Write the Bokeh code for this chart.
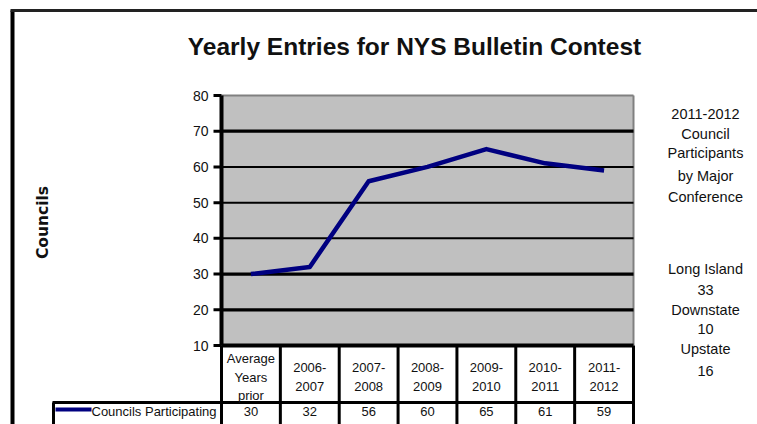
import math
from bokeh.plotting import figure
from bokeh.models import Range1d
from bokeh.core.properties import value
from bokeh.embed import file_html
from bokeh.resources import INLINE

# ---------------- data ----------------
title_text = "Yearly Entries for NYS Bulletin Contest"
y_axis_title = "Councils"
categories = ["Average\nYears\nprior", "2006-\n2007", "2007-\n2008", "2008-\n2009",
              "2009-\n2010", "2010-\n2011", "2011-\n2012"]
series_name = "Councils Participating"
values = [30, 32, 56, 60, 65, 61, 59]
y_ticks = [10, 20, 30, 40, 50, 60, 70, 80]
side_heading = ["2011-2012", "Council", "Participants", "by Major", "Conference"]
conference_names = ["Long Island", "Downstate", "Upstate"]
conference_counts = [33, 10, 16]

# ---------------- layout (page pixels) ----------------
W, H = 757, 424
MARGIN = 0
PLOT_L, PLOT_R = 221, 633
PLOT_T, PLOT_B = 95, 345
NCAT = len(categories)
SX = (PLOT_R - PLOT_L) / NCAT
SY = (PLOT_B - PLOT_T) / (y_ticks[-1] - y_ticks[0])


def dx(px):
    return (px - PLOT_L) / SX


def dy(py):
    return y_ticks[0] - (py - PLOT_B) / SY


p = figure(width=W, height=H, output_backend="svg", toolbar_location=None,
           x_range=Range1d(dx(MARGIN), dx(MARGIN + W)),
           y_range=Range1d(dy(MARGIN + H), dy(MARGIN)),
           x_axis_location=None, y_axis_location=None, min_border=0)
p.grid.visible = False
p.outline_line_color = None
p.background_fill_color = "white"
p.border_fill_color = "white"

FONT = value("Liberation Sans")

# outer frame of the chart object
p.segment(x0=[dx(12)], y0=[dy(10)], x1=[dx(12)], y1=[dy(440)], line_color="black", line_width=4)
p.segment(x0=[dx(10)], y0=[dy(10)], x1=[dx(770)], y1=[dy(10)], line_color="#222222", line_width=3)

# title
p.text(x=[dx(414)], y=[dy(46)], text=[title_text], text_font=FONT, text_font_style="bold",
       text_font_size="24.5px", text_align="center", text_baseline="middle", text_color="#111111")

# plot area
ymin, ymax = y_ticks[0], y_ticks[-1]
p.quad(left=[0], right=[NCAT], bottom=[ymin], top=[ymax], fill_color="#c0c0c0", line_color=None)
p.segment(x0=[0], y0=[ymax], x1=[NCAT], y1=[ymax], line_color="#808080", line_width=2)
p.segment(x0=[NCAT], y0=[ymin], x1=[NCAT], y1=[ymax], line_color="#808080", line_width=2)

# gridlines
grid_vals = y_ticks[1:-1]
thick = {20: 3.2, 30: 3.2, 70: 3.2}
p.segment(x0=[0] * len(grid_vals), y0=grid_vals, x1=[NCAT] * len(grid_vals), y1=grid_vals,
          line_color="black", line_width=[thick.get(v, 2) for v in grid_vals])

# y axis: line, ticks, labels
p.segment(x0=[0], y0=[ymin], x1=[0], y1=[ymax], line_color="black", line_width=4)
p.segment(x0=[dx(213)] * len(y_ticks), y0=y_ticks, x1=[0] * len(y_ticks), y1=y_ticks,
          line_color="black", line_width=3)
p.text(x=[dx(208)] * len(y_ticks), y=y_ticks, text=[str(v) for v in y_ticks], text_font=FONT,
       text_font_size="14px", text_align="right", text_baseline="middle", text_color="#111111")

# y axis title
p.text(x=[dx(42)], y=[dy(222)], text=[y_axis_title], angle=math.pi / 2, text_font=value("DejaVu Sans"),
       text_font_style="bold", text_font_size="15.5px", text_align="center", text_baseline="middle",
       text_color="#111111")

# data line
xs = [i + 0.5 for i in range(NCAT)]
p.line(x=xs, y=values, line_color="#000080", line_width=4.5, line_join="round")

# x axis line
p.segment(x0=[0], y0=[ymin], x1=[NCAT], y1=[ymin], line_color="black", line_width=4)

# data table: cell borders
bounds = list(range(NCAT + 1))
p.segment(x0=bounds, y0=[ymin] * len(bounds), x1=bounds, y1=[dy(440)] * len(bounds),
          line_color="black", line_width=3)
p.segment(x0=[dx(52)], y0=[dy(402)], x1=[NCAT], y1=[dy(402)], line_color="black", line_width=3)
p.segment(x0=[dx(53)], y0=[dy(402)], x1=[dx(53)], y1=[dy(440)], line_color="black", line_width=3)

# header texts (category labels)
LINE_GAP = 18.5
HEAD_MID = 376.5
hx, hy, ht = [], [], []
for i, cat in enumerate(categories):
    lines = cat.split("\n")
    n = len(lines)
    for j, ln in enumerate(lines):
        hx.append(i + 0.5)
        hy.append(dy(HEAD_MID + (j - (n - 1) / 2) * LINE_GAP))
        ht.append(ln)
p.text(x=hx, y=hy, text=ht, text_font=FONT, text_font_size="13px", text_align="center",
       text_baseline="middle", text_color="#111111")

# legend row
p.segment(x0=[dx(55)], y0=[dy(409)], x1=[dx(91)], y1=[dy(409)], line_color="#000080", line_width=4)
p.text(x=[dx(91)], y=[dy(411)], text=[series_name], text_font=FONT, text_font_size="13px",
       text_align="left", text_baseline="middle", text_color="#111111")
p.text(x=xs, y=[dy(411)] * NCAT, text=[str(v) for v in values], text_font=FONT, text_font_size="13px",
       text_align="center", text_baseline="middle", text_color="#111111")

# side note
side_x = dx(705)
head_y = [113.5, 133, 152, 175, 196]
p.text(x=[side_x] * len(side_heading), y=[dy(v) for v in head_y], text=side_heading, text_font=FONT,
       text_font_size="14.5px", text_align="center", text_baseline="middle", text_color="#111111")
conf_lines = []
for name, cnt in zip(conference_names, conference_counts):
    conf_lines += [name, str(cnt)]
conf_y = [268, 289, 309, 328, 348.5, 370]
p.text(x=[side_x] * len(conf_lines), y=[dy(v) for v in conf_y], text=conf_lines, text_font=FONT,
       text_font_size="14.5px", text_align="center", text_baseline="middle", text_color="#111111")

open("out.html", "w").write(file_html(p, INLINE))
